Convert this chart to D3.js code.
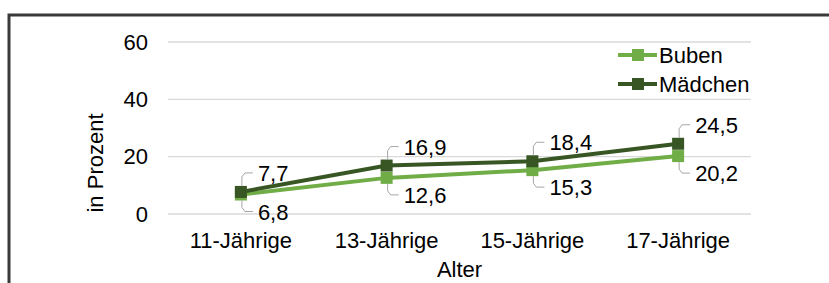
<!DOCTYPE html>
<html>
<head>
<meta charset="utf-8">
<script src="https://cdn.jsdelivr.net/npm/d3@7"></script>
<style>
    body { margin: 0; background: #fff; }
    svg { display: block; font-family: "Liberation Sans", Arial, sans-serif; }
</style>
</head>
<body>
<div class="chart"></div>
<script>
// chart values
const categories = ["11-Jährige", "13-Jährige", "15-Jährige", "17-Jährige"];
const buben = [6.8, 12.6, 15.3, 20.2];
const maedchen = [7.7, 16.9, 18.4, 24.5];
const yTicks = [0, 20, 40, 60];
const seriesNames = ["Buben", "Mädchen"];

function fmt(v) { return String(v.toFixed(1)).replace(".", ","); }

let width = 829, height = 283;
let fontSize = 22;

let svg = d3.select('.chart')
    .append("svg")
        .attr("width", width)
        .attr("height", height);

// outer frame (only top and left edges are visible)
svg.append("rect")
    .attr("x", 9).attr("y", 15)
    .attr("width", 900).attr("height", 400)
    .attr("fill", "none")
    .attr("stroke", "#3a3a3a")
    .attr("stroke-width", 3);

const x = d3.scaleBand()
    .domain(categories)
    .range([168, 751]);

const y = d3.scaleLinear()
    .domain([0, 60])
    .range([214, 42]);

const cx = function(d) { return x(d) + x.bandwidth() / 2; };

// gridlines + y labels
svg.append("g")
    .selectAll("line")
    .data(yTicks)
    .join("line")
        .attr("x1", 168).attr("x2", 751)
        .attr("y1", d => y(d)).attr("y2", d => y(d))
        .attr("stroke", "#d9d9d9")
        .attr("stroke-width", 1.3);

svg.append("g")
    .selectAll("text")
    .data(yTicks)
    .join("text")
        .attr("x", 148)
        .attr("y", d => y(d) + 7.5)
        .attr("text-anchor", "end")
        .attr("font-size", fontSize)
        .attr("fill", "#000")
        .text(d => d);

// x labels
svg.append("g")
    .selectAll("text")
    .data(categories)
    .join("text")
        .attr("x", cx)
        .attr("y", 248)
        .attr("text-anchor", "middle")
        .attr("font-size", fontSize)
        .text(d => d);

// axis titles
svg.append("text")
    .attr("x", 459.5).attr("y", 277)
    .attr("text-anchor", "middle")
    .attr("font-size", fontSize)
    .text("Alter");

svg.append("text")
    .attr("transform", "translate(103,163) rotate(-90)")
    .attr("text-anchor", "middle")
    .attr("font-size", fontSize)
    .text("in Prozent");

// series
const series = [
    { name: seriesNames[0], values: buben, color: "#70ad47", below: true },
    { name: seriesNames[1], values: maedchen, color: "#375623", below: false }
];

const line = d3.line()
    .x((d, i) => cx(categories[i]))
    .y(d => y(d));

series.forEach(function (s) {
    svg.append("path")
        .datum(s.values)
        .attr("fill", "none")
        .attr("stroke", s.color)
        .attr("stroke-width", 4)
        .attr("d", line);

    svg.append("g")
        .selectAll("rect")
        .data(s.values)
        .join("rect")
            .attr("x", (d, i) => cx(categories[i]) - 6)
            .attr("y", d => y(d) - 6)
            .attr("width", 12).attr("height", 12)
            .attr("fill", s.color);
});

// data labels with leader lines
series.forEach(function (s) {
    let g = svg.append("g");
    s.values.forEach(function (v, i) {
        let px = cx(categories[i]);
        let py = y(v);
        let base = s.below ? py + 25 : py - 11;
        let ly = base - 8;
        let path = s.below
            ? "M" + (px + 1) + "," + (py + 6) + "V" + (ly - 4) + "L" + (px + 4) + "," + ly + "H" + (px + 12)
            : "M" + (px + 12) + "," + ly + "H" + (px + 4) + "L" + (px + 1) + "," + (ly + 4) + "V" + (py - 6);
        g.append("path")
            .attr("d", path)
            .attr("fill", "none")
            .attr("stroke", "#a6a6a6")
            .attr("stroke-width", 1);
        g.append("text")
            .attr("x", px + 17)
            .attr("y", base)
            .attr("font-size", fontSize)
            .text(fmt(v));
    });
});

// legend
let legend = svg.append("g");
series.forEach(function (s, i) {
    let ly = 55 + i * 29;
    legend.append("line")
        .attr("x1", 618).attr("x2", 657)
        .attr("y1", ly).attr("y2", ly)
        .attr("stroke", s.color)
        .attr("stroke-width", 4);
    legend.append("rect")
        .attr("x", 632).attr("y", ly - 6)
        .attr("width", 12).attr("height", 12)
        .attr("fill", s.color);
    legend.append("text")
        .attr("x", 659).attr("y", ly + 7.5)
        .attr("font-size", fontSize)
        .text(s.name);
});
</script>
</body>
</html>
